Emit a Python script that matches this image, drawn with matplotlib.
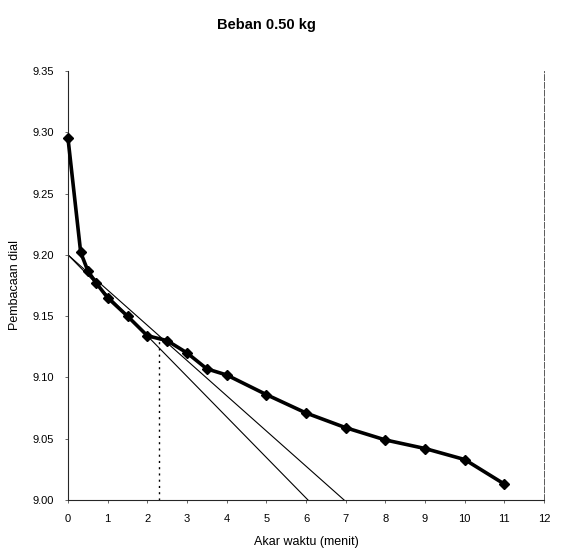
import matplotlib
matplotlib.use("Agg")
import matplotlib.pyplot as plt

plt.rcParams['font.family'] = ['Liberation Sans', 'DejaVu Sans']

# Data: square root of time (menit) vs dial reading
akar_waktu = [0, 0.32, 0.5, 0.71, 1.0, 1.5, 2.0, 2.5, 3.0, 3.5, 4.0, 5.0, 6.0, 7.0, 8.0, 9.0, 10.0, 11.0]
pembacaan = [9.295, 9.202, 9.187, 9.177, 9.165, 9.150, 9.134, 9.130, 9.120, 9.107, 9.102,
             9.086, 9.071, 9.059, 9.049, 9.042, 9.033, 9.013]

# Construction lines (Taylor sqrt-time method)
garis_y = [9.20, 9.00]
garis1_x = [0, 6.05]
garis2_x = [0, 6.96]
titik_x = 2.3

xticks = list(range(0, 13))
yticks = [9.00, 9.05, 9.10, 9.15, 9.20, 9.25, 9.30, 9.35]
ytick_labels = ["9.00", "9.05", "9.10", "9.15", "9.20", "9.25", "9.30", "9.35"]

fig = plt.figure(figsize=(5.66, 5.59), dpi=100)
ax = fig.add_axes([68 / 566, (559 - 500) / 559, (544 - 68) / 566, (500 - 71) / 559])

ax.plot(garis1_x, garis_y, color='black', lw=0.8)
ax.plot(garis2_x, garis_y, color='black', lw=0.8)
y_int = garis_y[0] + (garis_y[1] - garis_y[0]) * titik_x / garis2_x[1]
ax.plot([titik_x, titik_x], [9.00, y_int], color='black', lw=1.0, ls=(0, (1.5, 3)))

ax.plot(akar_waktu, pembacaan, color='black', lw=2.6, marker='D', markersize=5.5,
        markerfacecolor='black', markeredgecolor='black', clip_on=False, zorder=5)

ax.set_xlim(0, 12)
ax.set_ylim(9.00, 9.35)
ax.set_xticks(xticks)
ax.set_xticklabels([str(t) for t in xticks], fontsize=8)
ax.set_yticks(yticks)
ax.set_yticklabels(ytick_labels, fontsize=8)
ax.tick_params(axis='both', length=2, width=0.6, color='0.3', pad=8)

for s in ['left', 'bottom']:
    ax.spines[s].set_linewidth(0.8)
    ax.spines[s].set_color('0.15')
ax.spines['top'].set_visible(False)
ax.spines['right'].set_linewidth(0.7)
ax.spines['right'].set_color('0.35')
ax.spines['right'].set_linestyle((0, (6, 2)))

ax.set_xlabel("Akar waktu (menit)", fontsize=9, labelpad=9)
ax.set_ylabel("Pembacaan dial", fontsize=9, labelpad=8)

fig.text(0.47, 0.955, "Beban 0.50 kg", ha='center', va='center', fontsize=10.5, fontweight='bold')

fig.savefig("out.png", dpi=100)
